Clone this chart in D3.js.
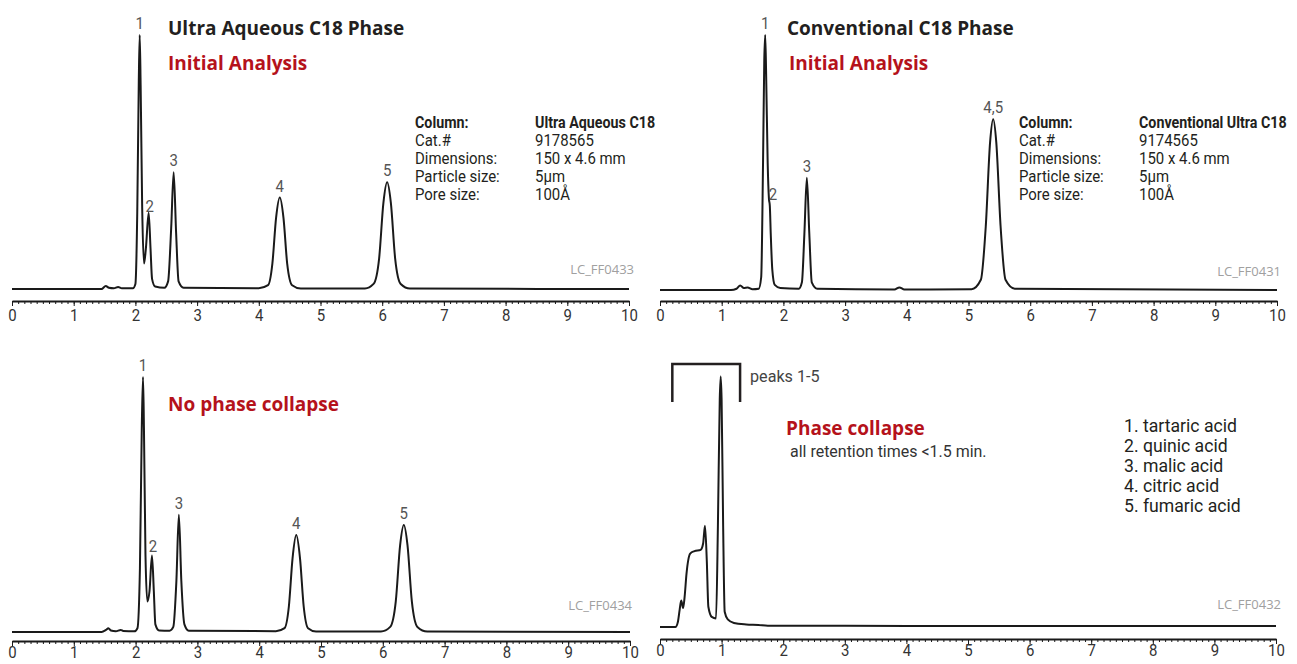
<!DOCTYPE html>
<html>
<head>
<meta charset="utf-8">
<script src="https://cdn.jsdelivr.net/npm/d3@7"></script>
<style>
  body { margin: 0; background: #fff; }
  svg { display: block; }
  .title { font-family: "Open Sans", "Noto Sans", sans-serif; font-weight: 700; font-size: 19px; fill: #231f20; }
  .red { font-family: "Open Sans", "Noto Sans", sans-serif; font-weight: 700; font-size: 19px; fill: #b5121b; }
  .narrow { font-family: Roboto, "Noto Sans", sans-serif; fill: #231f20; }
  .tag { font-family: "Open Sans", "Noto Sans", sans-serif; font-size: 13px; fill: #a0a0a0; }
  .trace { fill: none; stroke: #1a1a1a; stroke-width: 2; stroke-linejoin: round; }
  .axis path { stroke: #1a1a1a; stroke-width: 2; }
  .axis line { stroke: #1a1a1a; stroke-width: 1; }
  .axis text { font-family: Roboto, "Noto Sans", sans-serif; font-size: 17px; fill: #333; }
</style>
</head>
<body>
<script>
"use strict";

// retention time ticks (min)
const majorTicks = [0, 1, 2, 3, 4, 5, 6, 7, 8, 9, 10];
const minorTicks = [];
for (let i = 0; i <= 100; i++) minorTicks.push(i / 10);

// traces: [time (min), signal (% of tallest peak)]
const traceUltraInitial = [
  [0, 0], [1.45, 0], [1.52, 1.2], [1.57, 0.5], [1.65, 0.3], [1.72, 0.8], [1.78, 0.3], [1.96, 0.3],
  [2.0, 2], [2.03, 30], [2.055, 82], [2.07, 100], [2.085, 80], [2.11, 32], [2.14, 10], [2.17, 16],
  [2.215, 30], [2.245, 16], [2.27, 4], [2.32, 1], [2.47, 0.5], [2.53, 3], [2.58, 24], [2.62, 46],
  [2.66, 22], [2.7, 3], [2.78, 0.5], [4.0, 0.3], [4.15, 1.5], [4.22, 10], [4.28, 28], [4.34, 36],
  [4.4, 28], [4.46, 10], [4.54, 1.5], [4.68, 0.2], [5.72, 0.2], [5.86, 2], [5.95, 12], [6.02, 34],
  [6.08, 42], [6.14, 34], [6.21, 12], [6.3, 2], [6.45, 0.2], [10, 0]
];
const traceConvInitial = [
  [0, 0], [1.15, 0], [1.24, 0.5], [1.3, 1.8], [1.36, 0.8], [1.42, 1], [1.5, 0.3], [1.6, 0.5],
  [1.64, 5], [1.67, 50], [1.69, 90], [1.705, 100], [1.72, 85], [1.745, 50], [1.765, 36], [1.78, 33],
  [1.795, 22], [1.82, 8], [1.86, 2], [1.95, 0.8], [2.25, 0.5], [2.3, 3], [2.34, 22], [2.38, 44],
  [2.42, 22], [2.46, 3], [2.55, 0.5], [3.8, 0.2], [3.88, 1], [3.96, 0.2], [5.05, 0.3], [5.2, 4],
  [5.28, 25], [5.35, 58], [5.4, 67], [5.45, 58], [5.52, 25], [5.6, 4], [5.75, 0.5], [10, 0]
];
const traceUltraAfter = [
  [0, 0], [1.45, 0], [1.52, 0.8], [1.56, 1.5], [1.6, 0.6], [1.68, 0.3], [1.76, 0.8], [1.8, 0.4],
  [1.98, 0.3], [2.03, 1.5], [2.07, 25], [2.1, 80], [2.12, 100], [2.135, 80], [2.16, 30], [2.19, 12],
  [2.225, 16], [2.265, 30], [2.295, 16], [2.32, 3], [2.38, 0.6], [2.55, 0.5], [2.61, 2], [2.66, 20],
  [2.7, 46], [2.74, 20], [2.79, 3], [2.86, 0.5], [4.27, 0.3], [4.41, 1.5], [4.48, 10], [4.54, 29],
  [4.6, 38], [4.66, 29], [4.72, 10], [4.79, 1.5], [4.92, 0.2], [5.97, 0.2], [6.12, 2], [6.21, 12],
  [6.28, 34], [6.34, 42], [6.4, 34], [6.47, 12], [6.56, 2], [6.72, 0.2], [10, 0]
];
const traceConvAfter = [
  [0, 0], [0.25, 0], [0.29, 2], [0.32, 7], [0.345, 10.5], [0.375, 7.5], [0.4, 12], [0.43, 21],
  [0.49, 29], [0.56, 30], [0.66, 30.5], [0.7, 33], [0.73, 40], [0.76, 26], [0.785, 8], [0.84, 4],
  [0.91, 3.4], [0.94, 40], [0.97, 90], [0.985, 99], [1.0, 90], [1.025, 40], [1.05, 6], [1.1, 3],
  [1.2, 1.6], [1.4, 1], [1.6, 0.8], [1.75, 0.5], [3, 0.45], [5, 0.4], [10, 0.4]
];

// peak labels: [text, time, signal at label foot]
const labelsUltraInitial = [["1", 2.07, 100], ["2", 2.23, 28], ["3", 2.62, 46], ["4", 4.34, 36], ["5", 6.08, 42]];
const labelsConvInitial = [["1", 1.705, 100], ["2", 1.83, 33], ["3", 2.38, 44], ["4,5", 5.4, 67]];
const labelsUltraAfter = [["1", 2.12, 100], ["2", 2.28, 29], ["3", 2.7, 46], ["4", 4.6, 38], ["5", 6.34, 42]];

// column details
const infoKeys = ["Column:", "Cat.#", "Dimensions:", "Particle size:", "Pore size:"];
const infoUltra = ["Ultra Aqueous C18", "9178565", "150 x 4.6 mm", "5\u03BCm", "100\u00C5"];
const infoConv = ["Conventional Ultra C18", "9174565", "150 x 4.6 mm", "5\u03BCm", "100\u00C5"];

const compounds = ["1. tartaric acid", "2. quinic acid", "3. malic acid", "4. citric acid", "5. fumaric acid"];
const collapseSpan = [0.2, 1.3];

const svg = d3.select("body").append("svg")
  .attr("width", 1297)
  .attr("height", 664);

// condensed look: Roboto squeezed horizontally
const squeeze = 0.88;

function narrow(x, y, str, size, bold, color, k)
{
  const sx = k || (bold ? 0.84 : squeeze);
  return svg.append("text")
    .attr("class", "narrow")
    .attr("transform", "translate(" + x + "," + y + ") scale(" + sx + ",1)")
    .style("font-size", size + "px")
    .style("font-weight", bold ? "700" : "400")
    .style("fill", color || "#231f20")
    .text(str);
}

/**
 * Draw one chromatogram with its axis, trace and peak numbers
 */
function drawPanel(p)
{
  const x = d3.scaleLinear().domain([0, 10]).range(p.xr);
  const y = d3.scaleLinear().domain([0, 100]).range([p.base, p.top]);
  const g = svg.append("g");

  g.append("g")
    .attr("class", "axis")
    .attr("transform", "translate(0," + p.axisY + ")")
    .call(d3.axisBottom(x).tickValues(minorTicks).tickSize(3).tickSizeOuter(0).tickFormat(""));

  g.append("g")
    .attr("class", "axis")
    .attr("transform", "translate(0," + p.axisY + ")")
    .call(d3.axisBottom(x).tickValues(majorTicks).tickSize(5).tickSizeOuter(0).tickPadding(p.pad)
      .tickFormat(d3.format("d")))
    .call((a) => a.select(".domain").remove())
    .call((a) => a.selectAll("text").attr("transform", "scale(" + squeeze + ",1)"));

  const line = d3.line()
    .x((d) => x(d[0]))
    .y((d) => y(d[1]))
    .curve(d3.curveMonotoneX);

  g.append("path")
    .datum(p.trace)
    .attr("class", "trace")
    .attr("d", line);

  p.labels.forEach((d) =>
  {
    narrow(x(d[1]), y(d[2]) - 6, d[0], 17, false, "#555").attr("text-anchor", "middle");
  });

  g.append("text")
    .attr("class", "tag")
    .attr("x", p.tagX)
    .attr("y", p.tagY)
    .attr("text-anchor", "end")
    .text(p.tag);

  return x;
}

function drawInfo(x0, x1, y0, values)
{
  infoKeys.forEach((k, i) =>
  {
    const yy = y0 + i * 18;
    narrow(x0, yy, k, 17, i == 0);
    narrow(x1, yy, values[i], 17, i == 0);
  });
}

drawPanel({xr: [12, 629], base: 289, top: 35, axisY: 301, pad: 3, trace: traceUltraInitial,
  labels: labelsUltraInitial, tag: "LC_FF0433", tagX: 634, tagY: 274});
drawPanel({xr: [660, 1277], base: 290, top: 35, axisY: 301, pad: 3, trace: traceConvInitial,
  labels: labelsConvInitial, tag: "LC_FF0431", tagX: 1281, tagY: 276});
drawPanel({xr: [12, 630], base: 632, top: 377, axisY: 641, pad: 0, trace: traceUltraAfter,
  labels: labelsUltraAfter, tag: "LC_FF0434", tagX: 632, tagY: 610});
const xc = drawPanel({xr: [660, 1276], base: 627, top: 374, axisY: 639, pad: 0, trace: traceConvAfter,
  labels: [], tag: "LC_FF0432", tagX: 1281, tagY: 609});

// bracket over collapsed peaks
svg.append("path")
  .attr("d", "M" + xc(collapseSpan[0]) + ",402V364H" + xc(collapseSpan[1]) + "V402")
  .attr("fill", "none")
  .attr("stroke", "#231f20")
  .attr("stroke-width", 2.5);
narrow(750, 382, "peaks 1-5", 17, false, "#444", 0.95);

// headings
svg.append("text").attr("class", "title").attr("x", 168).attr("y", 35).text("Ultra Aqueous C18 Phase");
svg.append("text").attr("class", "red").attr("x", 168).attr("y", 70).text("Initial Analysis");
svg.append("text").attr("class", "title").attr("x", 787).attr("y", 35).text("Conventional C18 Phase");
svg.append("text").attr("class", "red").attr("x", 789).attr("y", 70).text("Initial Analysis");
svg.append("text").attr("class", "red").attr("x", 168).attr("y", 411).text("No phase collapse");
svg.append("text").attr("class", "red").attr("x", 786).attr("y", 435).text("Phase collapse");
narrow(790, 457, "all retention times <1.5 min.", 17, false, "#333", 0.94);

drawInfo(415, 535, 128, infoUltra);
drawInfo(1019, 1139, 128, infoConv);

compounds.forEach((d, i) => narrow(1124, 432 + i * 20, d, 18, false, "#231f20", 0.98));
</script>
</body>
</html>
